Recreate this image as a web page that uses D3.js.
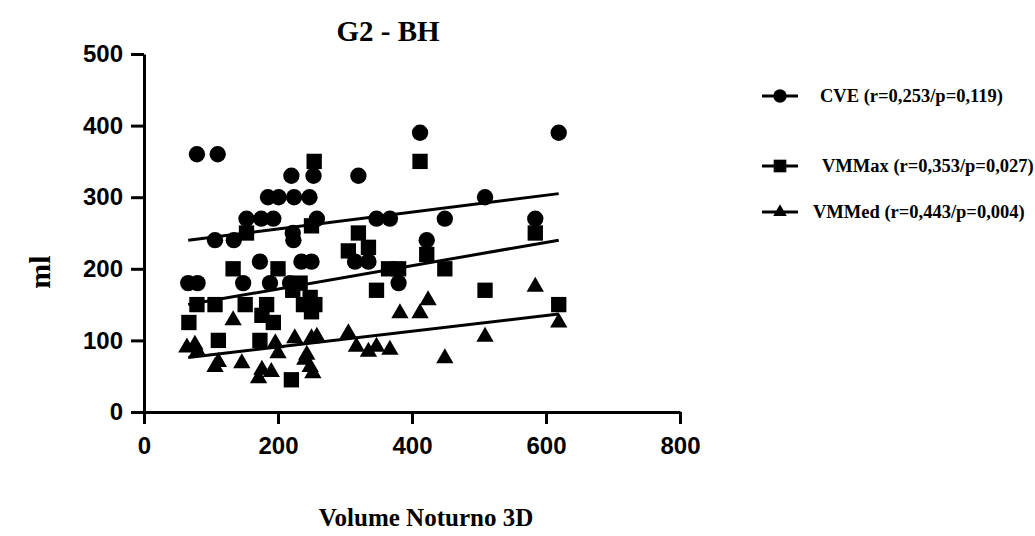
<!DOCTYPE html>
<html>
<head>
<meta charset="utf-8">
<script src="https://cdn.jsdelivr.net/npm/d3@7"></script>
<style>
  body { margin: 0; background: #fff; }
  svg text { fill: #000; }
</style>
</head>
<body>
<svg id="chart" width="1035" height="536"></svg>
<script>
// CVE (circles)
const cveX = [66, 80, 79, 110, 106, 134, 148, 153, 173, 175, 185, 188, 193, 201, 218, 220, 222, 223, 224, 235, 247, 250, 253, 258, 315, 320, 335, 347, 367, 380, 412, 422, 449, 509, 584, 619];
const cveY = [180, 180, 360, 360, 240, 240, 180, 270, 210, 270, 300, 180, 270, 300, 180, 330, 250, 240, 300, 210, 300, 210, 330, 270, 210, 330, 210, 270, 270, 180, 390, 240, 270, 300, 270, 390];

// VMMax (squares)
const maxX = [67, 79, 106, 111, 133, 151, 153, 173, 176, 183, 193, 200, 220, 222, 233, 238, 248, 250, 250, 254, 255, 305, 320, 335, 347, 365, 380, 412, 422, 449, 509, 584, 619];
const maxY = [125, 150, 150, 100, 200, 150, 250, 100, 135, 150, 125, 200, 45, 170, 180, 150, 160, 140, 260, 350, 150, 225, 250, 230, 170, 200, 200, 350, 220, 200, 170, 250, 150];

// VMMed (triangles)
const medX = [64, 76, 80, 106, 111, 133, 146, 171, 176, 190, 196, 200, 225, 240, 243, 248, 250, 252, 258, 305, 317, 335, 347, 367, 382, 412, 424, 449, 509, 584, 619];
const medY = [90, 94, 85, 63, 70, 128, 68, 47, 59, 56, 96, 82, 103, 73, 80, 63, 103, 54, 105, 110, 91, 84, 91, 87, 138, 138, 156, 75, 105, 175, 125];

// fitted lines (value at xFit ends)
const xFit = [66, 619];
const cveFit = [240, 305];
const maxFit = [150, 240];
const medFit = [76, 137];

const xTicks = [0, 200, 400, 600, 800];
const yTicks = [0, 100, 200, 300, 400, 500];

const series = [
  { name: 'CVE (r=0,253/p=0,119)', xs: cveX, ys: cveY, fit: cveFit, sym: d3.symbolCircle, size: 210, legendSize: 140 },
  { name: 'VMMax (r=0,353/p=0,027)', xs: maxX, ys: maxY, fit: maxFit, sym: d3.symbolSquare, size: 235, legendSize: 160 },
  { name: 'VMMed (r=0,443/p=0,004)', xs: medX, ys: medY, fit: medFit, sym: d3.symbolTriangle, size: 130, legendSize: 80 }
];

const svg = d3.select('#chart');

const x = d3.scaleLinear().domain([0, 800]).range([144, 680]);
const y = d3.scaleLinear().domain([0, 500]).range([412, 54]);

// axes
const xAxis = svg.append('g')
  .attr('transform', `translate(0,${y(0)})`)
  .call(d3.axisBottom(x).tickValues(xTicks).tickSize(12).tickSizeOuter(0).tickPadding(13));
const yAxis = svg.append('g')
  .attr('transform', `translate(${x(0)},0)`)
  .call(d3.axisLeft(y).tickValues(yTicks).tickSize(13).tickSizeOuter(0).tickPadding(8));

[xAxis, yAxis].forEach(a => {
  a.select('.domain').attr('stroke', '#000').attr('stroke-width', 3);
  a.selectAll('.tick line').attr('stroke', '#000').attr('stroke-width', 3);
  a.selectAll('.tick text')
    .attr('font-family', 'Liberation Sans, Arial, sans-serif')
    .attr('font-weight', 'bold')
    .attr('font-size', 24)
    .attr('fill', '#000');
});

// trend lines
const line = d3.line().x(d => x(d[0])).y(d => y(d[1]));
series.forEach(s => {
  svg.append('path')
    .attr('d', line(xFit.map((xv, i) => [xv, s.fit[i]])))
    .attr('fill', 'none')
    .attr('stroke', '#000')
    .attr('stroke-width', 3);
});

// points
series.forEach(s => {
  svg.append('g')
    .selectAll('path')
    .data(s.xs.map((xv, i) => [xv, s.ys[i]]))
    .enter()
    .append('path')
    .attr('d', d3.symbol().type(s.sym).size(s.size))
    .attr('transform', d => `translate(${x(d[0])},${y(d[1])})`)
    .attr('fill', '#000');
});

// title and axis labels
svg.append('text')
  .attr('x', 388).attr('y', 41)
  .attr('text-anchor', 'middle')
  .attr('font-family', 'Liberation Serif, Times New Roman, serif')
  .attr('font-weight', 'bold')
  .attr('font-size', 29)
  .text('G2 - BH');

svg.append('text')
  .attr('transform', 'translate(50,272) rotate(-90)')
  .attr('text-anchor', 'middle')
  .attr('font-family', 'Liberation Serif, Times New Roman, serif')
  .attr('font-weight', 'bold')
  .attr('font-size', 30)
  .text('ml');

svg.append('text')
  .attr('x', 426).attr('y', 526)
  .attr('text-anchor', 'middle')
  .attr('font-family', 'Liberation Serif, Times New Roman, serif')
  .attr('font-weight', 'bold')
  .attr('font-size', 25)
  .text('Volume Noturno 3D');

// legend
const legendY = [96, 166, 212];
const legendTextX = [820, 822, 813];
series.forEach((s, i) => {
  const g = svg.append('g').attr('transform', `translate(0,${legendY[i]})`);
  g.append('line')
    .attr('x1', 762).attr('x2', 798)
    .attr('stroke', '#000').attr('stroke-width', 3);
  g.append('path')
    .attr('d', d3.symbol().type(s.sym).size(s.legendSize))
    .attr('transform', 'translate(780,0)')
    .attr('fill', '#000');
  g.append('text')
    .attr('x', legendTextX[i]).attr('y', 6)
    .attr('font-family', 'Liberation Serif, Times New Roman, serif')
    .attr('font-weight', 'bold')
    .attr('font-size', 18.5)
    .text(s.name);
});
</script>
</body>
</html>
